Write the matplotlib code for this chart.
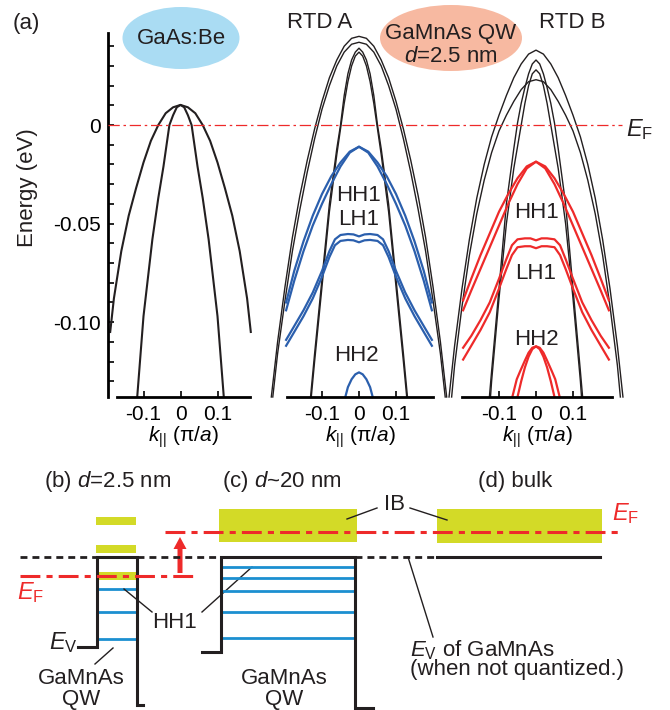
import numpy as np
import matplotlib
matplotlib.use('Agg')
import matplotlib.pyplot as plt
import matplotlib.transforms as mtransforms
from matplotlib.patches import Ellipse, Rectangle, FancyArrow

plt.rcParams['font.family'] = ['Liberation Sans', 'DejaVu Sans']
plt.rcParams['mathtext.fontset'] = 'custom'
plt.rcParams['mathtext.rm'] = 'Liberation Sans'
plt.rcParams['mathtext.it'] = 'Liberation Sans:italic'
plt.rcParams['mathtext.bf'] = 'Liberation Sans:bold'
plt.rcParams['mathtext.sf'] = 'Liberation Sans'
plt.rcParams['text.color'] = '#231f20'

# ---- (a) dispersions, half curves (k >= 0), E in eV ----
gaas_hh_k = [0, 0.02, 0.04, 0.06, 0.08, 0.10, 0.12, 0.14, 0.16, 0.18, 0.19]
gaas_hh_e = [0.0102, 0.009, 0.006, 0.000, -0.008, -0.019, -0.032, -0.046, -0.064, -0.088, -0.105]
gaas_lh_k = [0, 0.01, 0.02, 0.03, 0.046, 0.06, 0.076, 0.10, 0.117]
gaas_lh_e = [0.0102, 0.009, 0.005, 0.000, -0.021, -0.037, -0.058, -0.097, -0.138]

wide_k = [0, 0.02, 0.04, 0.06, 0.08, 0.10, 0.12, 0.14, 0.16, 0.18, 0.20, 0.22]
a_wide1_e = [0.045, 0.044, 0.040, 0.033, 0.024, 0.012, -0.002, -0.018, -0.036, -0.057, -0.082, -0.110]
a_wide2_e = [0.042, 0.041, 0.037, 0.030, 0.020, 0.008, -0.007, -0.024, -0.043, -0.064, -0.089, -0.116]
a_wide_end = [(0.237, -0.138), (0.233, -0.138)]
b_wide1_e = [0.038, 0.036, 0.031, 0.024, 0.015, 0.005, -0.006, -0.020, -0.037, -0.058, -0.083, -0.112]
b_wide2_e = [0.023, 0.022, 0.018, 0.012, 0.005, -0.003, -0.014, -0.028, -0.045, -0.066, -0.092, -0.122]
b_wide_end = [(0.235, -0.138), (0.228, -0.138)]

narrow_k = [0, 0.01, 0.02, 0.03, 0.04, 0.05, 0.06, 0.08, 0.10, 0.12]
a_narrow1_e = [0.039, 0.037, 0.033, 0.026, 0.015, 0.000, -0.012, -0.040, -0.078, -0.116]
a_narrow2_e = [0.037, 0.035, 0.030, 0.022, 0.011, -0.002, -0.015, -0.044, -0.082, -0.120]
a_narrow_end = [(0.131, -0.138), (0.129, -0.138)]
b_narrow1_e = [0.033, 0.031, 0.026, 0.019, 0.011, 0.001, -0.012, -0.040, -0.083, -0.125]
b_narrow2_e = [0.028, 0.026, 0.020, 0.011, 0.000, -0.011, -0.022, -0.050, -0.088, -0.130]
b_narrow_end = [(0.126, -0.138), (0.123, -0.138)]

hh1_k = [0, 0.025, 0.05, 0.075, 0.10, 0.125, 0.15, 0.175, 0.197]
a_hh1_1_e = [-0.011, -0.0135, -0.019, -0.026, -0.035, -0.046, -0.059, -0.074, -0.090]
a_hh1_2_e = [-0.011, -0.014, -0.021, -0.030, -0.040, -0.051, -0.064, -0.079, -0.094]
b_hh1_1_e = [-0.0186, -0.021, -0.027, -0.035, -0.044, -0.055, -0.066, -0.078, -0.089]
b_hh1_2_e = [-0.0186, -0.022, -0.030, -0.040, -0.051, -0.062, -0.073, -0.084, -0.094]

lh1_k = [0, 0.015, 0.03, 0.05, 0.065, 0.08, 0.10, 0.125, 0.15, 0.175, 0.197]
a_lh1_1_e = [-0.0565, -0.0555, -0.0553, -0.0558, -0.058, -0.064, -0.074, -0.085, -0.094, -0.102, -0.109]
a_lh1_2_e = [-0.0595, -0.0585, -0.0583, -0.0588, -0.061, -0.067, -0.077, -0.088, -0.097, -0.105, -0.112]
b_lh1_1_e = [-0.0585, -0.0575, -0.0575, -0.058, -0.061, -0.068, -0.078, -0.090, -0.099, -0.107, -0.113]
b_lh1_2_e = [-0.0625, -0.0615, -0.0615, -0.062, -0.066, -0.073, -0.083, -0.095, -0.104, -0.112, -0.119]

a_hh2_k = [0, 0.01, 0.02, 0.03, 0.037]
a_hh2_e = [-0.1255, -0.1265, -0.129, -0.133, -0.138]
b_hh2_1_k = [0, 0.01, 0.02, 0.03, 0.043, 0.052, 0.064]
b_hh2_1_e = [-0.1123, -0.113, -0.1155, -0.1195, -0.125, -0.129, -0.138]
b_hh2_2_k = [0, 0.01, 0.02, 0.03, 0.04, 0.05]
b_hh2_2_e = [-0.1123, -0.1137, -0.1175, -0.123, -0.130, -0.138]

# ---- (b)-(d) schematic levels (pixel units of the sketch) ----
b_hh_levels = [589, 612, 639]
c_hh_levels = [567, 578, 591, 612, 638]
b_ib_boxes = [517, 545, 572]

BLACK = '#231f20'
BLUE = '#2b5fad'
RED = '#ee2a2a'
LBLUE = '#1c8fd0'
YELLOW = '#d3da27'

W, H = 670, 710
fig = plt.figure(figsize=(W / 100, H / 100), dpi=100)


def sym(k, e, end=None):
    k = list(k)
    e = list(e)
    if end is not None:
        k.append(end[0])
        e.append(end[1])
    k = np.array(k)
    e = np.array(e)
    return np.concatenate([-k[::-1], k[1:]]), np.concatenate([e[::-1], e[1:]])


def px_axes(x0, x1, y0, y1):
    return fig.add_axes([x0 / W, 1 - y1 / H, (x1 - x0) / W, (y1 - y0) / H])


ylo, yhi = -0.138, 0.0467
panels = [(117, 250, 180.5), (287, 433, 359), (462, 612, 536)]
axes = []
for x0, x1, c in panels:
    ax = px_axes(x0, x1, 33, 397)
    ax.set_xlim((x0 - c) / 370, (x1 - c) / 370)
    ax.set_ylim(ylo, yhi)
    ax.patch.set_visible(False)
    for s in ['top', 'right', 'left']:
        ax.spines[s].set_visible(False)
    ax.spines['bottom'].set_linewidth(2.0)
    ax.set_xticks([-0.1, 0, 0.1])
    ax.set_xticklabels(['-0.1', '0', '0.1'])
    ax.tick_params(axis='x', direction='in', length=4, width=1.2, labelsize=15, pad=6)
    ax.set_yticks([])
    ax.set_xlabel(r'$k_{||}$ (π/$a$)', fontsize=15, labelpad=0)
    axes.append(ax)

ax1, ax2, ax3 = axes
ax1.spines['left'].set_visible(True)
ax1.spines['left'].set_linewidth(2.0)
ax1.spines['left'].set_position(('outward', 6.5))
ax1.set_yticks([0, -0.05, -0.10])
ax1.set_yticklabels(['0', '-0.05', '-0.10'])
ax1.set_yticks(np.arange(-0.13, 0.045, 0.01), minor=True)
ax1.tick_params(axis='y', which='both', direction='in', length=4, width=1.2, labelsize=15, pad=5)

kw_b = dict(color=BLACK, lw=1.0, clip_on=False)
kw_c = dict(lw=1.6, clip_on=False)

ax1.plot(*sym(gaas_hh_k, gaas_hh_e), color=BLACK, lw=1.5, clip_on=False)
ax1.plot(*sym(gaas_lh_k, gaas_lh_e), color=BLACK, lw=1.5, clip_on=False)

for ax, wides, narrows, wend, nend in [
        (ax2, [a_wide1_e, a_wide2_e], [a_narrow1_e, a_narrow2_e], a_wide_end, a_narrow_end),
        (ax3, [b_wide1_e, b_wide2_e], [b_narrow1_e, b_narrow2_e], b_wide_end, b_narrow_end)]:
    for e, end in zip(wides, wend):
        ax.plot(*sym(wide_k, e, end), **kw_b)
    for e, end in zip(narrows, nend):
        ax.plot(*sym(narrow_k, e, end), **kw_b)

for e in [a_hh1_1_e, a_hh1_2_e]:
    ax2.plot(*sym(hh1_k, e), color=BLUE, **kw_c)
for e in [a_lh1_1_e, a_lh1_2_e]:
    ax2.plot(*sym(lh1_k, e), color=BLUE, **kw_c)
ax2.plot(*sym(a_hh2_k, a_hh2_e), color=BLUE, **kw_c)

for e in [b_hh1_1_e, b_hh1_2_e]:
    ax3.plot(*sym(hh1_k, e), color=RED, **kw_c)
for e in [b_lh1_1_e, b_lh1_2_e]:
    ax3.plot(*sym(lh1_k, e), color=RED, **kw_c)
ax3.plot(*sym(b_hh2_1_k, b_hh2_1_e), color=RED, **kw_c)
ax3.plot(*sym(b_hh2_2_k, b_hh2_2_e), color=RED, **kw_c)

fs = 16
ax2.text(0, -0.036, 'HH1', ha='center', va='center', fontsize=fs)
ax2.text(0, -0.048, 'LH1', ha='center', va='center', fontsize=fs)
ax2.text(-0.008, -0.1168, 'HH2', ha='center', va='center', fontsize=fs)
ax3.text(0, -0.0442, 'HH1', ha='center', va='center', fontsize=fs)
ax3.text(0, -0.0751, 'LH1', ha='center', va='center', fontsize=fs)
ax3.text(0, -0.109, 'HH2', ha='center', va='center', fontsize=fs)

# ---- overlay in pixel units ----
ov = fig.add_axes([0, 0, 1, 1])
ov.set_xlim(0, W)
ov.set_ylim(H, 0)
ov.axis('off')
ov.patch.set_visible(False)

# Fermi level across (a)
trans = mtransforms.blended_transform_factory(ov.transData, ax1.transData)
ov.plot([108, 622], [0, 0], transform=trans, color=RED, lw=0.9, dashes=(9, 3, 2, 3))

ov.text(26, 23, '(a)', fontsize=fs, ha='center', va='center')
ov.add_patch(Ellipse((181, 38), 117, 62, color='#aadcf3', lw=0))
ov.text(181, 38, 'GaAs:Be', fontsize=fs, ha='center', va='center')
ov.text(320, 23, 'RTD A', fontsize=fs, ha='center', va='center')
ov.add_patch(Ellipse((451, 38), 142, 66, color='#f7b9a1', lw=0))
ov.text(451, 33, 'GaMnAs QW', fontsize=fs, ha='center', va='center')
ov.text(451, 56, '$d$=2.5 nm', fontsize=fs, ha='center', va='center')
ov.text(572, 23, 'RTD B', fontsize=fs, ha='center', va='center')
ov.text(626, 130, r'$E_\mathrm{F}$', fontsize=17, ha='left', va='center')
ov.text(28, 188, 'Energy (eV)', fontsize=fs, rotation=90, ha='center', va='center')

# ---- (b) d=2.5 nm ----
ov.text(108, 481, '(b) $d$=2.5 nm', fontsize=fs, ha='center', va='center')
for y in b_ib_boxes:
    ov.add_patch(Rectangle((96, y), 40, 8, color=YELLOW, lw=0))
for y in b_hh_levels:
    ov.plot([97, 137], [y, y], color=LBLUE, lw=2.0, solid_capstyle='butt')
ov.plot([20, 97], [557, 557], color=BLACK, lw=2.0, dashes=(2.5, 1.8))
ov.plot([137, 220], [557, 557], color=BLACK, lw=2.0, dashes=(2.5, 1.8))
ov.plot([78, 97, 97, 137, 137, 143], [647, 647, 557, 557, 705, 705],
        color=BLACK, lw=2.2, solid_joinstyle='miter')
ov.plot([20, 195], [576, 576], color=RED, lw=2.2, dashes=(6.5, 2, 2, 2))
ov.add_patch(FancyArrow(180, 573, 0, -36, width=5, head_width=13, head_length=12,
                        length_includes_head=True, color=RED, lw=0))
ov.text(31, 593, r'$E_\mathrm{F}$', fontsize=17, color=RED, ha='center', va='center')
ov.text(63, 643, r'$E_\mathrm{V}$', fontsize=17, ha='center', va='center')
ov.text(81, 689, 'GaMnAs\nQW', fontsize=fs, ha='center', va='center', linespacing=0.95)
ov.plot([95, 113], [664, 648], color=BLACK, lw=1.0)
ov.text(175, 623, 'HH1', fontsize=fs, ha='center', va='center')
ov.plot([152, 124], [612, 589], color=BLACK, lw=1.0)
ov.plot([202, 252], [612, 567], color=BLACK, lw=1.0)

# ---- (c) d~20 nm ----
ov.text(222, 481, '(c) $d$~20 nm', fontsize=fs, ha='left', va='center')
ov.add_patch(Rectangle((219, 509), 138, 33, color=YELLOW, lw=0))
for y in c_hh_levels:
    ov.plot([221, 355], [y, y], color=LBLUE, lw=2.0, solid_capstyle='butt')
ov.plot([202, 221, 221, 355, 355, 373], [652, 652, 557, 557, 708, 708],
        color=BLACK, lw=2.2, solid_joinstyle='miter')
ov.plot([355, 434], [557, 557], color=BLACK, lw=2.0, dashes=(2.5, 1.8))
ov.text(284, 689, 'GaMnAs\nQW', fontsize=fs, ha='center', va='center', linespacing=0.95)

# ---- (d) bulk ----
ov.text(515, 481, '(d) bulk', fontsize=fs, ha='center', va='center')
ov.add_patch(Rectangle((437, 509), 165, 34, color=YELLOW, lw=0))
ov.plot([437, 600], [557, 557], color=BLACK, lw=2.2)
ov.plot([165, 620], [532, 532], color=RED, lw=2.2, dashes=(6.5, 2, 2, 2))
ov.text(612, 514, r'$E_\mathrm{F}$', fontsize=17, color=RED, ha='left', va='center')
ov.text(394, 505, 'IB', fontsize=fs, ha='center', va='center')
ov.plot([377, 347], [508, 519], color=BLACK, lw=1.0)
ov.plot([410, 447], [508, 520], color=BLACK, lw=1.0)
ov.text(410, 650, r'$E_\mathrm{V}$ of GaMnAs', fontsize=fs, ha='left', va='center')
ov.text(410, 670, '(when not quantized.)', fontsize=fs, ha='left', va='center')
ov.plot([433, 408], [637, 557], color=BLACK, lw=1.0)

fig.savefig('out.png', dpi=100)
